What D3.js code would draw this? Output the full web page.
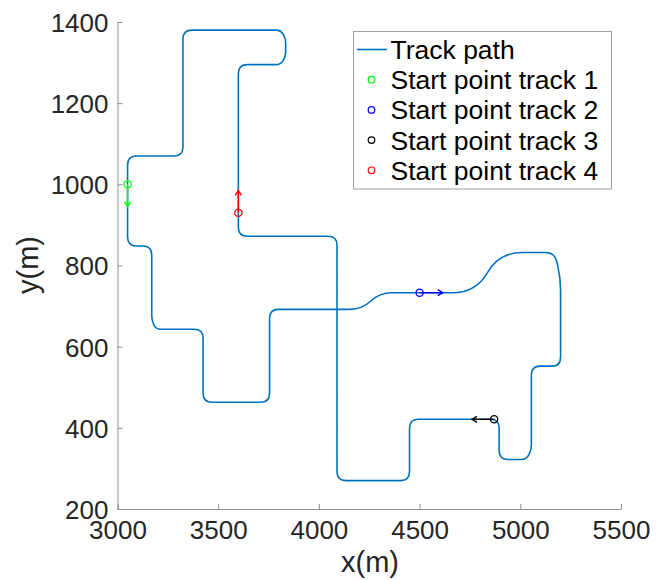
<!DOCTYPE html>
<html><head><meta charset="utf-8">
<script src="https://cdn.jsdelivr.net/npm/d3@7"></script>
<style>body{margin:0;background:#fff} svg{display:block}</style>
</head><body><svg id="c" width="663" height="580"></svg>
<script>
// ---- data (metres) ----
const trackX = [3050, 3050, 3170, 3170, 3190, 3425, 3425, 3755, 3755, 4214, 4301, 4780, 4894, 5170, 5200, 5200, 5055, 5055, 5030, 4895, 4895, 4450, 4450, 4090, 4090, 3600, 3600, 3810, 3835, 3835, 3810, 3325, 3325, 3050];
const trackY = [1000, 848, 848, 665, 643, 643, 463, 463, 692, 692, 733, 733, 832, 832, 770, 552, 552, 345, 322, 322, 421, 421, 270, 270, 872, 872, 1295, 1295, 1315, 1360, 1380, 1380, 1070, 1070];
const startNames = ["Start point track 1", "Start point track 2", "Start point track 3", "Start point track 4"];
const startX = [3050, 4500, 4870, 3600];
const startY = [1000, 733, 421, 930];
const dirU = [0, 115, -110, 0];
const dirV = [-55, 0, 0, 55];
const xTicks = [3000, 3500, 4000, 4500, 5000, 5500];
const yTicks = [200, 400, 600, 800, 1000, 1200, 1400];
const pathName = "Track path";
const xLabel = "x(m)", yLabel = "y(m)";

// ---- styles ----
const pathColor = "#0072BD";
const startColors = ["#00ff00", "#0000ff", "#000000", "#ff0000"];
const axisColor = "#8f8f8f", textColor = "#262626";
const FONT = "'Liberation Sans', Arial, Helvetica, sans-serif";

const svg = d3.select("#c");
const x = d3.scaleLinear().domain([3000, 5500]).range([117.5, 621]);
const y = d3.scaleLinear().domain([200, 1400]).range([509, 22]);

// rounded-corner closed path through the waypoints
function roundedLoop(px, py) {
  const n = px.length, p = d3.path();
  const segs = [];
  for (let i = 0; i < n; i++) {
    const a = [px[(i - 1 + n) % n], py[(i - 1 + n) % n]], v = [px[i], py[i]], b = [px[(i + 1) % n], py[(i + 1) % n]];
    const dix = v[0] - a[0], diy = v[1] - a[1], li = Math.hypot(dix, diy);
    const dox = b[0] - v[0], doy = b[1] - v[1], lo = Math.hypot(dox, doy);
    const ux = dix / li, uy = diy / li, wx = dox / lo, wy = doy / lo;
    const ang = Math.acos(Math.max(-1, Math.min(1, ux * wx + uy * wy))) * 180 / Math.PI;
    const cap = ang < 70 ? 45 : 9;
    const t = Math.min(cap, li / 2, lo / 2);
    segs.push({ p1: [v[0] - ux * t, v[1] - uy * t], v, p2: [v[0] + wx * t, v[1] + wy * t] });
  }
  p.moveTo(segs[0].p1[0], segs[0].p1[1]);
  segs.forEach((s, i) => {
    if (i > 0) p.lineTo(s.p1[0], s.p1[1]);
    p.quadraticCurveTo(s.v[0], s.v[1], s.p2[0], s.p2[1]);
  });
  p.closePath();
  return p.toString();
}

svg.append("path")
  .attr("d", roundedLoop(trackX.map(x), trackY.map(y)))
  .attr("fill", "none").attr("stroke", pathColor).attr("stroke-width", 1.6)
  .attr("stroke-linejoin", "round");

// axes
const gx = svg.append("g").attr("transform", `translate(0,${y(200)})`)
  .call(d3.axisBottom(x).tickValues(xTicks).tickFormat(d3.format("d")).tickSizeInner(-5).tickSizeOuter(0).tickPadding(12));
const gy = svg.append("g").attr("transform", `translate(${x(3000)},0)`)
  .call(d3.axisLeft(y).tickValues(yTicks).tickFormat(d3.format("d")).tickSizeInner(-5).tickSizeOuter(0).tickPadding(9));
[gx, gy].forEach(g => {
  g.select(".domain").attr("stroke", axisColor).attr("stroke-width", 1);
  g.selectAll(".tick line").attr("stroke", axisColor);
  g.selectAll(".tick text").attr("fill", textColor).style("font-family", FONT).style("font-size", "26px");
});
gy.selectAll(".tick text").attr("dy", "0.36em");

svg.append("text").attr("x", 370).attr("y", 572).attr("text-anchor", "middle")
  .attr("fill", textColor).style("font-family", FONT).style("font-size", "29px").text(xLabel);
svg.append("text").attr("transform", `translate(37.5,265) rotate(-90)`).attr("text-anchor", "middle")
  .attr("fill", textColor).style("font-family", FONT).style("font-size", "29px").text(yLabel);

// quiver arrows + start markers
startX.forEach((sx, i) => {
  const x0 = x(sx), y0 = y(startY[i]);
  const x1 = x(sx + dirU[i]), y1 = y(startY[i] + dirV[i]);
  const L = Math.hypot(x1 - x0, y1 - y0), ux = (x1 - x0) / L, uy = (y1 - y0) / L;
  const hl = 5, hw = 3;
  const g = svg.append("g").attr("stroke", startColors[i]).attr("stroke-width", 1.4).attr("fill", "none");
  g.append("line").attr("x1", x0).attr("y1", y0).attr("x2", x1).attr("y2", y1);
  g.append("path").attr("d", `M${x1 - ux * hl - uy * hw},${y1 - uy * hl + ux * hw}L${x1},${y1}L${x1 - ux * hl + uy * hw},${y1 - uy * hl - ux * hw}`);
  g.append("circle").attr("cx", x0).attr("cy", y0).attr("r", 3.6).attr("stroke-width", 1.3);
});

// legend
const leg = svg.append("g");
leg.append("rect").attr("x", 353.5).attr("y", 31.5).attr("width", 258).attr("height", 157.5)
  .attr("fill", "#fff").attr("stroke", "#a0a0a0").attr("stroke-width", 1);
const rowY = i => 49.5 + i * 30.2;
leg.append("line").attr("x1", 357).attr("x2", 387).attr("y1", rowY(0)).attr("y2", rowY(0))
  .attr("stroke", pathColor).attr("stroke-width", 1.6);
leg.append("text").attr("x", 390.5).attr("y", rowY(0)).attr("dy", "0.36em").attr("fill", "#000")
  .style("font-family", FONT).style("font-size", "26.5px").text(pathName);
startNames.forEach((nm, i) => {
  leg.append("circle").attr("cx", 371.5).attr("cy", rowY(i + 1)).attr("r", 3.3)
    .attr("fill", "none").attr("stroke", startColors[i]).attr("stroke-width", 1.2);
  leg.append("text").attr("x", 390.5).attr("y", rowY(i + 1)).attr("dy", "0.36em").attr("fill", "#000")
    .style("font-family", FONT).style("font-size", "26.5px").text(nm);
});
</script></body></html>
